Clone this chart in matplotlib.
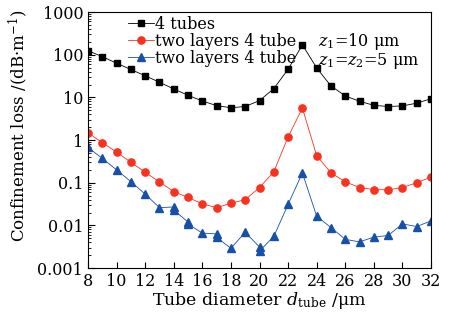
import numpy as np
import matplotlib.pyplot as plt

plt.rcParams['font.family'] = ['DejaVu Serif']
plt.rcParams['mathtext.fontset'] = 'dejavuserif'

# tube diameter (um) and confinement loss (dB/m)
d_single = np.arange(8, 33)
loss_single = [124, 90, 63, 45, 32, 22.6, 15.7, 11.2, 8.2, 6.4, 5.7, 6.1,
               8.4, 16, 45.5, 170, 49, 18.5, 10.8, 8.1, 6.5, 6.1, 6.3, 7.3, 9.3]

d_two10 = np.arange(8, 33)
loss_two10 = [1.47, 0.87, 0.52, 0.30, 0.176, 0.104, 0.062, 0.045, 0.032, 0.026,
              0.033, 0.040, 0.077, 0.18, 1.18, 5.6, 0.43, 0.17, 0.105, 0.077,
              0.069, 0.068, 0.077, 0.10, 0.135]

d_two5 = [8, 9, 10, 11, 12, 13, 14, 14, 15, 15, 16, 17, 17, 18, 19, 20, 20,
          21, 22, 23, 24, 25, 26, 27, 28, 29, 30, 31, 32]
loss_two5 = [0.67, 0.37, 0.20, 0.106, 0.054, 0.026, 0.027, 0.023, 0.0119, 0.0107,
             0.0066, 0.0063, 0.0052, 0.0029, 0.0069, 0.0031, 0.0025,
             0.0055, 0.031, 0.17, 0.0164, 0.0089, 0.0047, 0.0041, 0.0053,
             0.0058, 0.0108, 0.0094, 0.0127]

fig = plt.figure(figsize=(4.57, 3.21), dpi=100)
ax = fig.add_axes([0.1926, 0.165, 0.7505, 0.7976])

ax.plot(d_single, loss_single, '-s', color='black', lw=0.6, ms=4,
        label='4 tubes')
ax.plot(d_two10, loss_two10, '-o', color='#f8321e', lw=0.6, ms=5.2,
        label='two layers 4 tube')
ax.plot(d_two5, loss_two5, '-^', color='#1650a8', lw=0.6, ms=5.5,
        label='two layers 4 tube')

ax.set_yscale('log')
ax.set_xlim(8, 32)
ax.set_ylim(0.001, 1000)
ax.set_xticks(np.arange(8, 33, 2))
ax.set_yticks([0.001, 0.01, 0.1, 1, 10, 100, 1000])
ax.set_yticklabels(['0.001', '0.01', '0.1', '1', '10', '100', '1000'])
ax.tick_params(axis='both', which='both', direction='in', labelsize=11.5)
ax.tick_params(axis='y', which='major', length=5)
ax.tick_params(axis='y', which='minor', length=2.5)
ax.tick_params(axis='x', which='major', length=4)

ax.set_xlabel(r'Tube diameter $d_{\mathrm{tube}}$ /μm', fontsize=12.5, labelpad=0)
ax.set_ylabel('Confinement loss /(dB·m$^{-1}$)', fontsize=12)
ax.yaxis.set_label_coords(-0.17, 0.555)

ax.legend(loc='upper left', bbox_to_anchor=(0.08, 1.035), frameon=False,
          fontsize=11.5, handlelength=1.6, handletextpad=0.1,
          labelspacing=0.0, borderpad=0.3)
ax.text(0.67, 0.883, r'$z_1$=10 μm', transform=ax.transAxes, fontsize=11.5,
        va='center')
ax.text(0.67, 0.81, r'$z_1$=$z_2$=5 μm', transform=ax.transAxes, fontsize=11.5,
        va='center')

fig.savefig('out.png', dpi=100)
